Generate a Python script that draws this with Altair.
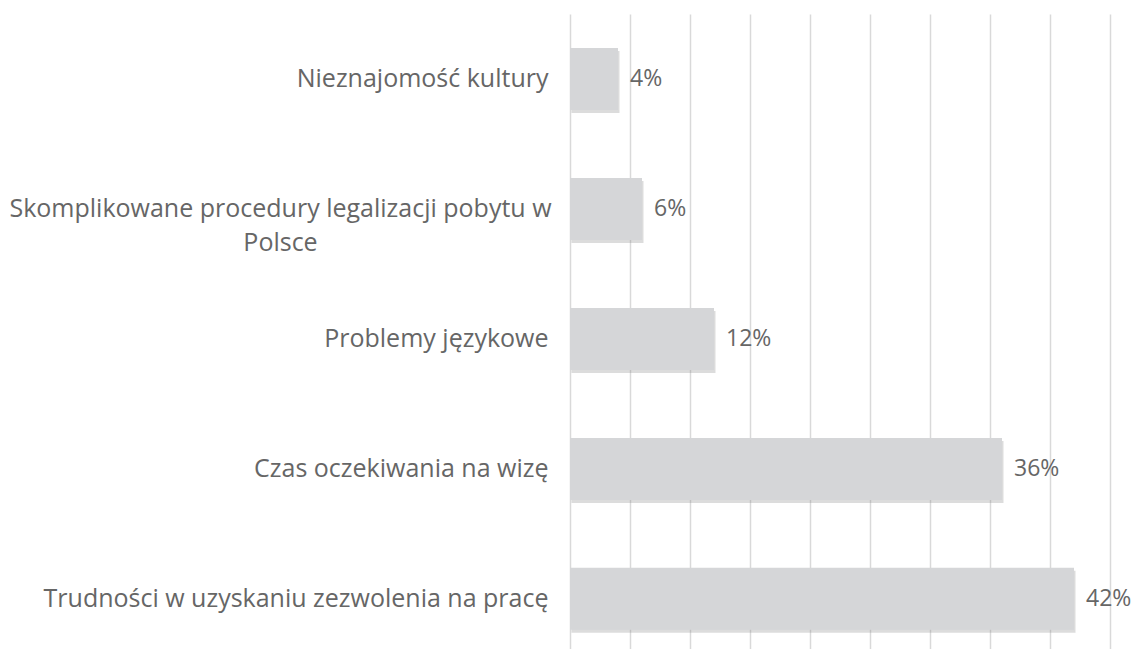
import altair as alt
import pandas as pd

categories = [
    "Nieznajomość kultury",
    "Skomplikowane procedury legalizacji pobytu w Polsce",
    "Problemy językowe",
    "Czas oczekiwania na wizę",
    "Trudności w uzyskaniu zezwolenia na pracę",
]
values = [4, 6, 12, 36, 42]
value_labels = ["4%", "6%", "12%", "36%", "42%"]

df = pd.DataFrame({"cat": categories, "value": values, "label": value_labels})

FONT = "Open Sans"
GREY = "#666666"
WRAP = "Skomplikowane procedury legalizacji pobytu w Polsce"
test = f"datum.value == '{WRAP}'"

y_enc = alt.Y(
    "cat:N",
    sort=categories,
    title=None,
    scale=alt.Scale(paddingInner=0.523, paddingOuter=0.205, align=0.64),
    axis=alt.Axis(
        ticks=False,
        domain=False,
        labelPadding={"condition": {"test": test, "value": 290}, "value": 22},
        labelAlign={"condition": {"test": test, "value": "center"}, "value": "right"},
        labelFont=FONT,
        labelFontSize=25,
        labelColor=GREY,
        labelLimit=800,
        labelExpr=f"datum.value == '{WRAP}' ? ['Skomplikowane procedury legalizacji pobytu w', 'Polsce'] : datum.value",
        labelLineHeight=34,
    ),
)
x_enc = alt.X(
    "value:Q",
    title=None,
    scale=alt.Scale(domain=[0, 45], nice=False),
    axis=alt.Axis(
        values=[0, 5, 10, 15, 20, 25, 30, 35, 40, 45],
        labels=False,
        ticks=False,
        domain=False,
        grid=True,
        gridColor="#d9d9d9",
        gridWidth=1.5,
    ),
)

shadow = alt.Chart(df).mark_bar(color="#8c8c8c", opacity=0.3, xOffset=1.5, yOffset=3).encode(
    y=y_enc, x=x_enc
)
bars = alt.Chart(df).mark_bar(color="#d5d6d8").encode(y=y_enc, x=x_enc)
texts = alt.Chart(df).mark_text(
    align="left", baseline="middle", dx=12, font=FONT, fontSize=23, color=GREY
).encode(y=y_enc, x=x_enc, text="label:N")

chart = (
    alt.layer(shadow, bars, texts)
    .properties(
        width=540,
        height=635,
        padding={"left": 562, "top": 6, "right": 21, "bottom": 0},
        autosize=alt.AutoSizeParams(type="none"),
    )
    .configure_view(stroke=None)
)

chart.save("out.html", embed_options={"renderer": "svg", "actions": False})
